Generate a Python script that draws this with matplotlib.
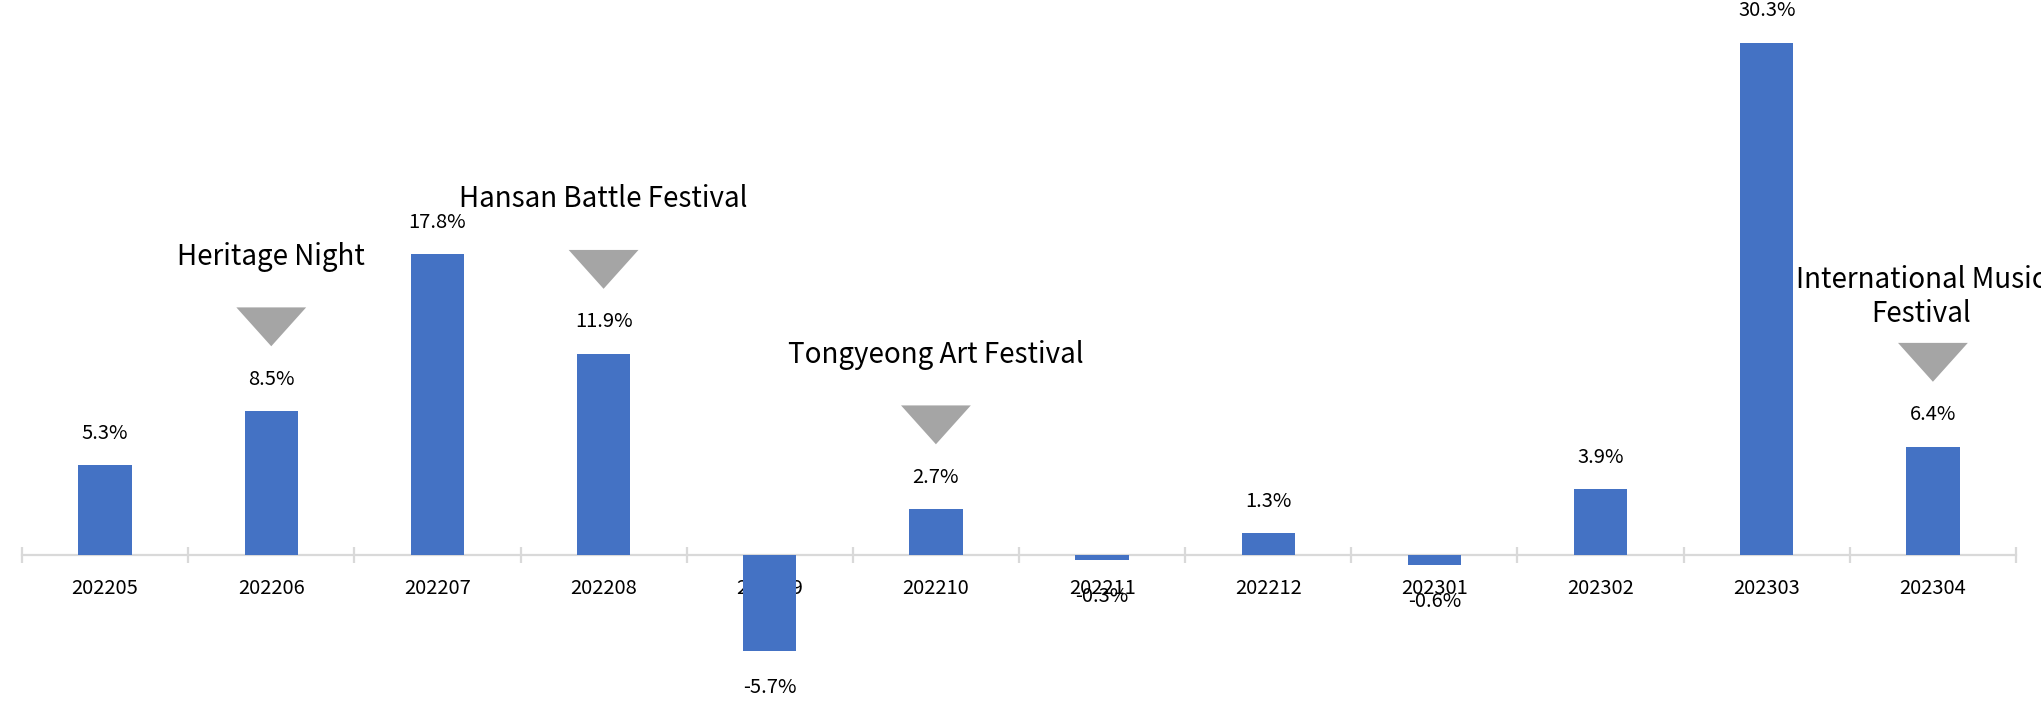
import matplotlib
matplotlib.use("Agg")
from matplotlib import pyplot as plt
from matplotlib.patches import Polygon

plt.rcParams['font.family'] = ['Noto Sans CJK KR', 'DejaVu Sans']

# 월별 증감률 데이터
months = ["202205", "202206", "202207", "202208", "202209", "202210",
          "202211", "202212", "202301", "202302", "202303", "202304"]
rates = [5.3, 8.5, 17.8, 11.9, -5.7, 2.7, -0.3, 1.3, -0.6, 3.9, 30.3, 6.4]

# 축제 표시 (월, 이름)
event_months = ["202206", "202208", "202210", "202304"]
event_names = ["Heritage Night", "Hansan Battle Festival",
               "Tongyeong Art Festival", "International Music\nFestival"]

bar_color = "#4472C4"
tri_color = "#A5A5A5"
axis_color = "#D9D9D9"

fig = plt.figure(figsize=(20.41, 7.02), dpi=100)
ax = fig.add_axes([22 / 2041, 0, 1994 / 2041, 1])

xs = list(range(len(months)))
ax.bar(xs, rates, width=0.32, color=bar_color, zorder=2)

ax.set_xlim(-0.5, len(months) - 0.5)
ax.set_ylim(-8.7, 32.84)

# 데이터 레이블
for x, v in zip(xs, rates):
    dy = 23 if v >= 0 else -26
    ax.annotate("{:.1f}%".format(v), xy=(x, v), xytext=(0, dy),
                textcoords="offset points", ha="center", va="center",
                fontsize=14.5, color="black", zorder=4)

# 축제 표시 삼각형 + 텍스트
tri_gap = 3.85
tri_h = 2.3
tri_half_w = 0.21
for m, name in zip(event_months, event_names):
    i = months.index(m)
    v = rates[i]
    bottom = v + tri_gap
    top = bottom + tri_h
    tri = Polygon([(i - tri_half_w, top), (i + tri_half_w, top), (i, bottom)],
                  closed=True, facecolor=tri_color, edgecolor="none", zorder=3)
    ax.add_patch(tri)
    if "\n" in name:
        off = (-8.6, 33)
    else:
        off = (0, 36.5)
    ax.annotate(name, xy=(i, top), xytext=off,
                textcoords="offset points", ha="center", va="center",
                fontsize=20, color="black", linespacing=1.2,
                annotation_clip=False)

# 축 스타일
for s in ["top", "right", "left"]:
    ax.spines[s].set_visible(False)
ax.spines["bottom"].set_position(("data", 0))
ax.spines["bottom"].set_color(axis_color)
ax.spines["bottom"].set_linewidth(1.6)
ax.spines["bottom"].set_zorder(1)
ax.set_yticks([])

ax.set_xticks(xs)
ax.set_xticklabels(months, fontsize=14.5)
ax.tick_params(axis="x", which="major", length=0, pad=16.5)
ax.set_xticks([x - 0.5 for x in xs] + [len(months) - 0.5], minor=True)
ax.tick_params(axis="x", which="minor", length=11, width=1.6,
               color=axis_color, direction="inout")

fig.savefig("out.png", dpi=100)
